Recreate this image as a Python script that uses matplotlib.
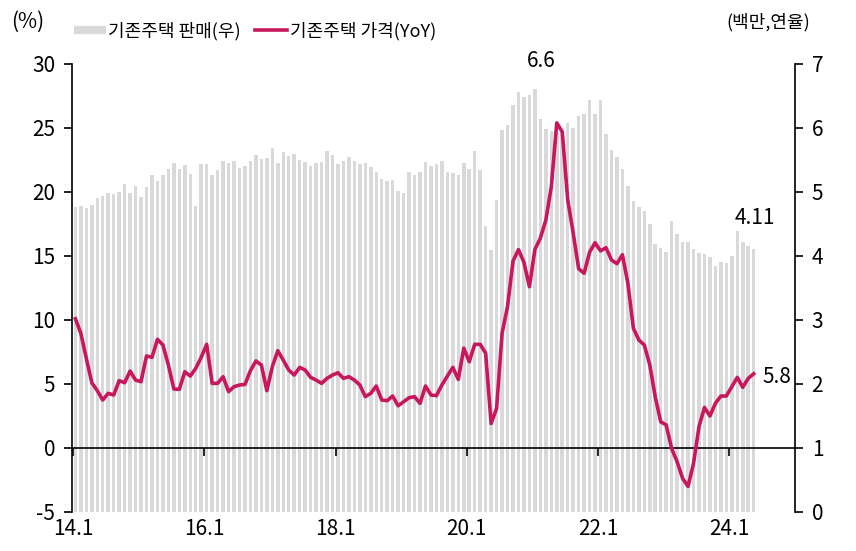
import numpy as np
import matplotlib
matplotlib.use("Agg")
import matplotlib.pyplot as plt
from matplotlib.lines import Line2D

plt.rcParams['font.family'] = ['Noto Sans CJK KR', 'DejaVu Sans']
plt.rcParams['axes.unicode_minus'] = False

# monthly, 2014.1 ~ 2024.5
sales = [4.77, 4.78, 4.75, 4.79, 4.90, 4.94, 4.98, 4.97, 5.00, 5.12, 4.99, 5.09,
         4.92, 5.08, 5.26, 5.17, 5.26, 5.36, 5.45, 5.36, 5.42, 5.28, 4.78, 5.44,
         5.43, 5.27, 5.34, 5.48, 5.45, 5.48, 5.37, 5.41, 5.48, 5.58, 5.52, 5.53,
         5.68, 5.46, 5.62, 5.57, 5.60, 5.50, 5.47, 5.41, 5.46, 5.47, 5.64, 5.58,
         5.43, 5.49, 5.54, 5.48, 5.44, 5.46, 5.39, 5.31, 5.20, 5.17, 5.19, 5.02,
         4.98, 5.32, 5.26, 5.32, 5.47, 5.41, 5.44, 5.48, 5.32, 5.30, 5.27, 5.46,
         5.36, 5.64, 5.34, 4.47, 4.09, 4.88, 5.97, 6.05, 6.36, 6.57, 6.48, 6.52,
         6.61, 6.14, 5.99, 5.96, 5.92, 5.94, 6.08, 6.00, 6.18, 6.22, 6.44, 6.22,
         6.44, 5.91, 5.65, 5.54, 5.36, 5.10, 4.86, 4.76, 4.71, 4.50, 4.19, 4.12,
         4.07, 4.54, 4.35, 4.22, 4.22, 4.11, 4.05, 4.03, 3.98, 3.85, 3.91, 3.89,
         4.00, 4.39, 4.22, 4.15, 4.11]
price_yoy = [10.1, 8.96, 7.0, 5.10, 4.48, 3.75, 4.27, 4.14, 5.26, 5.10, 6.01, 5.31,
             5.18, 7.19, 7.08, 8.49, 8.05, 6.48, 4.61, 4.58, 5.96, 5.62, 6.22, 7.08,
             8.10, 5.05, 5.05, 5.57, 4.4, 4.79, 4.92, 4.97, 6.04, 6.80, 6.48, 4.48,
             6.35, 7.6, 6.87, 6.09, 5.70, 6.30, 6.09, 5.52, 5.31, 5.05, 5.44, 5.70,
             5.88, 5.44, 5.57, 5.31, 4.92, 4.01, 4.27, 4.84, 3.75, 3.7, 4.06, 3.3,
             3.61, 3.93, 4.01, 3.49, 4.84, 4.14, 4.09, 4.92, 5.62, 6.3, 5.36, 7.8,
             6.74, 8.10, 8.10, 7.4, 1.91, 3.1, 8.96, 11.05, 14.6, 15.5, 14.5, 12.6,
             15.5, 16.4, 17.8, 20.4, 25.4, 24.7, 19.4, 16.8, 14.0, 13.65, 15.3, 16.04,
             15.4, 15.65, 14.69, 14.4, 15.1, 12.86, 9.36, 8.44, 8.05, 6.5, 4.0, 2.05,
             1.8, -0.04, -1.07, -2.37, -3.0, -1.2, 1.66, 3.17, 2.5, 3.49, 4.06, 4.06,
             4.79, 5.52, 4.74, 5.44, 5.8]
tick_labels = ['14.1', '16.1', '18.1', '20.1', '22.1', '24.1']

x = np.arange(len(sales))
fs = 15
fs_kr = 13
red = '#C8175D'
gray = '#D9D9D9'

fig = plt.figure(figsize=(8.56, 5.51), dpi=100)
ax = fig.add_axes([72/856, 39/551, 723/856, 448/551])
ax2 = ax.twinx()

ax2.bar(x, sales, width=0.64, color=gray, zorder=1)
ax.plot(x, price_yoy, color=red, lw=2.6, zorder=3)

ax.set_zorder(ax2.get_zorder() + 1)
ax.patch.set_visible(False)

ax.set_xlim(-0.62, 131.55)
ax.set_ylim(-5, 30)
ax2.set_ylim(0, 7)
ax.set_yticks(np.arange(-5, 31, 5))
ax2.set_yticks(np.arange(0, 8, 1))

for a in (ax, ax2):
    a.spines['top'].set_visible(False)
ax.spines['right'].set_visible(False)
ax2.spines['left'].set_visible(False)
ax2.spines['bottom'].set_visible(False)
ax.spines['bottom'].set_position(('data', 0))
for s in (ax.spines['left'], ax.spines['bottom'], ax2.spines['right']):
    s.set_linewidth(1.2)
    s.set_color('black')

ax.tick_params(axis='y', direction='out', length=6, width=1.2, labelsize=fs, pad=6)
ax2.tick_params(axis='y', direction='out', length=6, width=1.2, labelsize=fs, pad=6)

xt = np.arange(0, 121, 24) - 0.45
ax.set_xticks(xt)
ax.tick_params(axis='x', direction='out', length=6, width=1.2, labelbottom=False)
sec = ax.secondary_xaxis(0.0)
sec.set_xticks(xt)
sec.set_xticklabels(tick_labels)
sec.tick_params(axis='x', length=0, labelsize=fs, pad=4)
sec.spines['bottom'].set_visible(False)

ax2.annotate('6.6', xy=(84, sales[84]), xytext=(6, 28), textcoords='offset pixels',
             ha='center', va='center', fontsize=fs)
ax2.annotate('4.11', xy=(124, sales[124]), xytext=(1, 31), textcoords='offset pixels',
             ha='center', va='center', fontsize=fs)
ax.annotate('5.8', xy=(124, price_yoy[124]), xytext=(9, -3), textcoords='offset pixels',
            ha='left', va='center', fontsize=fs)

fig.text(28/856, 1 - 22/551, '(%)', ha='center', va='center', fontsize=fs)
fig.text(768/856, 1 - 22/551, '(백만,연율)', ha='center', va='center', fontsize=fs_kr)

handles = [Line2D([], [], color=gray, lw=6, solid_capstyle='butt'),
           Line2D([], [], color=red, lw=2.6)]
fig.legend(handles, ['기존주택 판매(우)', '기존주택 가격(YoY)'], ncol=2, frameon=False,
           loc='center', bbox_to_anchor=(255/856, 1 - 31/551), fontsize=fs_kr,
           handlelength=1.75, handletextpad=0.15, columnspacing=0.8, borderpad=0)

fig.savefig('out.png', dpi=100)
